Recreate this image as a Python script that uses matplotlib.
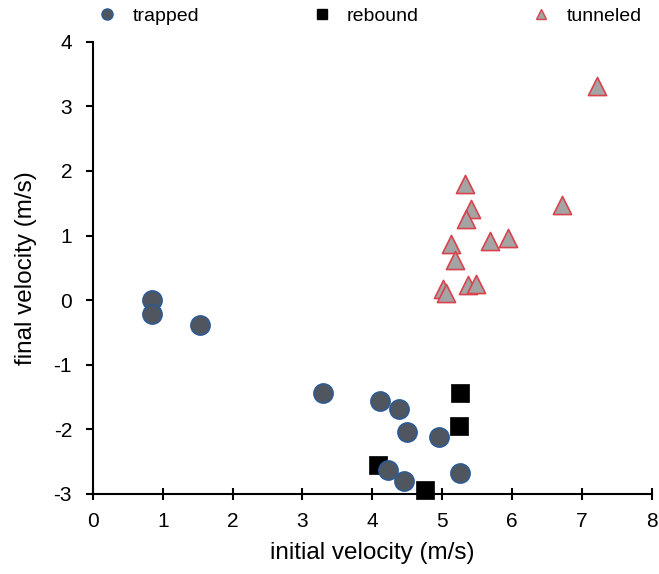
import matplotlib
matplotlib.use("Agg")
import matplotlib.pyplot as plt
from matplotlib.lines import Line2D

plt.rcParams['font.family'] = ['Liberation Sans', 'DejaVu Sans']
plt.rcParams['axes.unicode_minus'] = False

# Collisions classified by outcome: initial vs. final velocity (m/s)
trapped_x = [0.84, 0.85, 1.54, 3.29, 4.11, 4.38, 4.49, 4.95, 4.23, 4.45, 5.26]
trapped_y = [0.00, -0.22, -0.38, -1.44, -1.57, -1.69, -2.05, -2.12, -2.64, -2.81, -2.68]

rebound_x = [5.25, 5.24, 4.08, 4.76]
rebound_y = [-1.44, -1.95, -2.56, -2.95]

tunneled_x = [5.32, 5.41, 5.34, 6.72, 5.12, 5.69, 5.94, 5.18, 5.01, 5.06, 5.37, 5.49, 7.21]
tunneled_y = [1.80, 1.41, 1.26, 1.47, 0.87, 0.91, 0.96, 0.62, 0.17, 0.11, 0.23, 0.25, 3.32]

x_ticks = [0, 1, 2, 3, 4, 5, 6, 7, 8]
y_ticks = [-3, -2, -1, 0, 1, 2, 3, 4]

fig = plt.figure(figsize=(6.59, 5.74), dpi=100)
ax = fig.add_axes([0.141, 0.14, 0.848, 0.787])

circ_face, circ_edge = '#4f5660', '#2e5a94'
tri_face, tri_edge = '#a4a4a4', '#d8434e'

ax.scatter(rebound_x, rebound_y, marker='s', s=150, c='black', edgecolors='black',
           linewidths=0.5, zorder=3, clip_on=False)
ax.scatter(trapped_x, trapped_y, marker='o', s=190, c=circ_face, edgecolors=circ_edge,
           linewidths=1.2, zorder=4, clip_on=False)
ax.scatter(tunneled_x, tunneled_y, marker='^', s=170, c=tri_face, edgecolors=tri_edge,
           linewidths=1.2, zorder=5, clip_on=False)

ax.set_xlim(0, 8)
ax.set_ylim(-3, 4)
ax.set_xticks(x_ticks)
ax.set_yticks(y_ticks)
ax.tick_params(axis='both', labelsize=15, width=1.5, length=5, direction='out')
ax.tick_params(axis='y', pad=10)
ax.tick_params(axis='x', direction='inout', length=8, pad=9)
for side in ('top', 'right'):
    ax.spines[side].set_visible(False)
for side in ('left', 'bottom'):
    ax.spines[side].set_linewidth(1.5)

ax.set_xlabel('initial velocity (m/s)', fontsize=17.5, labelpad=8)
ax.set_ylabel('final velocity (m/s)', fontsize=17.5, labelpad=12)

handles = [
    Line2D([], [], linestyle='none', marker='o', markersize=8, markerfacecolor=circ_face,
           markeredgecolor=circ_edge, markeredgewidth=1, label='trapped'),
    Line2D([], [], linestyle='none', marker='s', markersize=7, markerfacecolor='black',
           markeredgecolor='black', label='rebound'),
    Line2D([], [], linestyle='none', marker='^', markersize=7, markerfacecolor=tri_face,
           markeredgecolor=tri_edge, markeredgewidth=1, label='tunneled'),
]
fig.legend(handles=handles, loc='center', bbox_to_anchor=(0.561, 0.972), ncol=3,
           frameon=False, fontsize=14, handletextpad=0.8, columnspacing=5.8,
           handlelength=1.0)

fig.savefig('out.png', dpi=100)
